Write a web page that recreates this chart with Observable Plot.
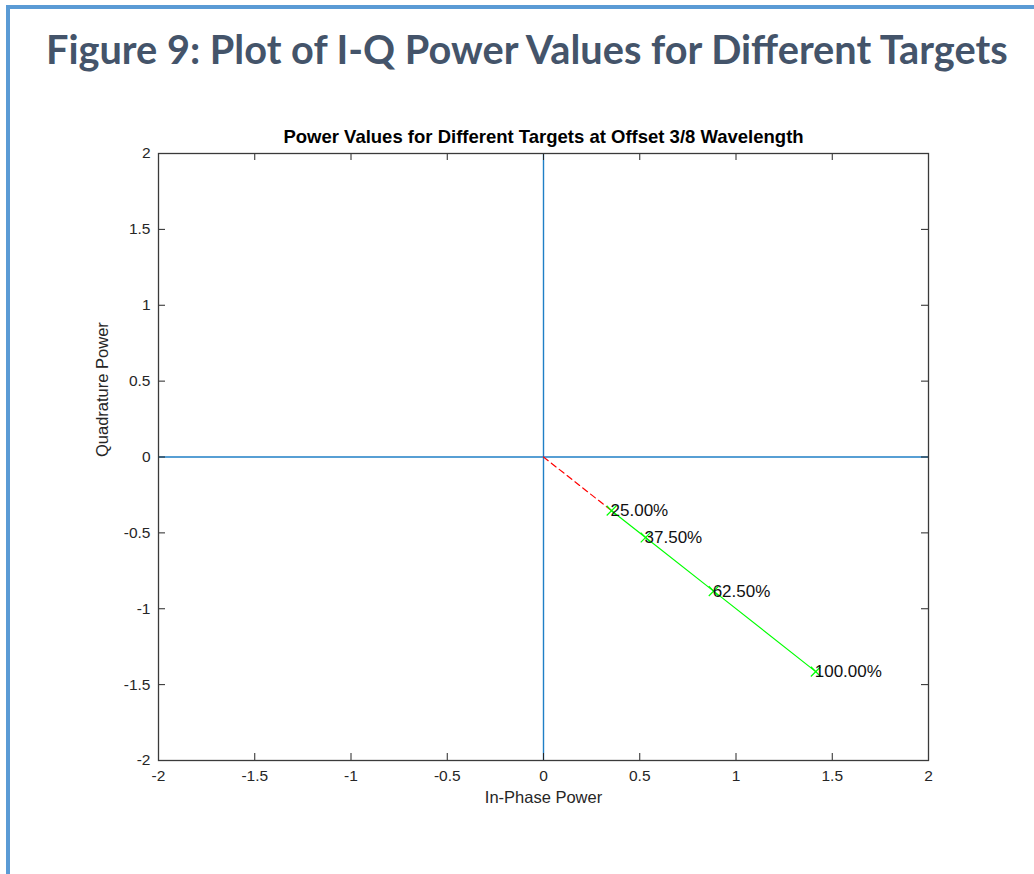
<!DOCTYPE html>
<html>
<head>
<meta charset="utf-8">
<script src="https://cdn.jsdelivr.net/npm/d3@7"></script>
<script src="https://cdn.jsdelivr.net/npm/@observablehq/plot@0.6"></script>
<style>
  html, body { margin: 0; padding: 0; background: #fff; }
  #page { position: relative; width: 1034px; height: 874px; overflow: hidden; background: #fff; }
  #border { position: absolute; left: 6px; top: 5px; right: -10px; bottom: -10px; z-index: 5; pointer-events: none;
            border-top: 4px solid #5B9BD5; border-left: 4px solid #5B9BD5; }
  #title { position: absolute; left: 46px; top: 28px; white-space: nowrap; font-family: Lato, 'Open Sans', sans-serif;
           font-weight: bold; color: #44546A; line-height: 1; transform-origin: 0 50%; }
  #chart { position: absolute; left: 0; top: 100px; }
</style>
</head>
<body>
<div id="page">
  <div id="title">Figure 9: Plot of I-Q Power Values for Different Targets</div>
  <div id="chart"></div>
  <div id="border"></div>
</div>
<script>
// Data
const targets = ["25.00%", "37.50%", "62.50%", "100.00%"];
const inPhase = [0.3536, 0.5303, 0.8839, 1.4142];
const quadrature = [-0.3536, -0.5303, -0.8839, -1.4142];
const tickValues = [-2, -1.5, -1, -0.5, 0, 0.5, 1, 1.5, 2];
const chartTitle = "Power Values for Different Targets at Offset 3/8 Wavelength";
const xLabel = "In-Phase Power";
const yLabel = "Quadrature Power";

// fit page title to the reference width (962px) and cap height
(function fitTitle() {
  const el = document.getElementById("title");
  const target = 962, base = 41;
  el.style.fontSize = base + "px";
  const w = el.getBoundingClientRect().width;
  const size = base * target / w;
  el.style.fontSize = size + "px";
  el.style.transform = "scaleY(" + (base / size) + ")";
  el.style.top = (28 + (41 - size) / 2) + "px";
})();

const points = targets.map((t, i) => ({label: t, x: inPhase[i], y: quadrature[i]}));
const origin = {x: 0, y: 0};
const dashed = [origin, points[0]];

const W = 1034, H = 740;
const mL = 158, mR = 106, mT = 53, mB = 80;
const fw = W - mL - mR, fh = H - mT - mB;
const tk = 7;
const fontF = "'Liberation Sans', Arial, Helvetica, sans-serif";
const txt = "#262626";
const fmt = d => String(d);

const chart = Plot.plot({
  width: W, height: H,
  marginLeft: mL, marginRight: mR, marginTop: mT, marginBottom: mB,
  style: {fontFamily: fontF, fontSize: "15px", color: txt, background: "transparent"},
  x: {domain: [-2, 2], axis: null},
  y: {domain: [-2, 2], axis: null},
  marks: [
    // zero axes in blue
    Plot.ruleX([0], {stroke: "#1f7fc6", strokeWidth: 1.4}),
    Plot.ruleY([0], {stroke: "#1f7fc6", strokeWidth: 1.4}),
    // data lines
    Plot.line(dashed, {x: "x", y: "y", stroke: "#FF0000", strokeWidth: 1.2, strokeDasharray: "6,4"}),
    Plot.line(points, {x: "x", y: "y", stroke: "#00FF00", strokeWidth: 1.2}),
    Plot.dot(points, {x: "x", y: "y", symbol: "times", r: 4.5, stroke: "#00FF00", strokeWidth: 1.2}),
    Plot.text(points, {x: "x", y: "y", text: "label", textAnchor: "start", dx: -1, fontSize: 17, fill: "#111", fontFamily: fontF}),
    // inward ticks on all four sides
    Plot.tickX(tickValues, {x: d => d, insetTop: fh - tk, stroke: "#262626", strokeWidth: 1}),
    Plot.tickX(tickValues, {x: d => d, insetBottom: fh - tk, stroke: "#262626", strokeWidth: 1}),
    Plot.tickY(tickValues, {y: d => d, insetRight: fw - tk, stroke: "#262626", strokeWidth: 1}),
    Plot.tickY(tickValues, {y: d => d, insetLeft: fw - tk, stroke: "#262626", strokeWidth: 1}),
    // tick labels
    Plot.text(tickValues, {x: d => d, text: fmt, frameAnchor: "bottom", dy: 20, fontSize: 15.5, fill: txt, fontFamily: fontF}),
    Plot.text(tickValues, {y: d => d, text: fmt, frameAnchor: "left", textAnchor: "end", dx: -8, fontSize: 15.5, fill: txt, fontFamily: fontF}),
    // box
    Plot.frame({stroke: "#3a3a3a", strokeWidth: 1.3}),
    // axis labels and title
    Plot.text([xLabel], {frameAnchor: "bottom", dy: 42, fontSize: 16.5, fill: txt, fontFamily: fontF}),
    Plot.text([yLabel], {frameAnchor: "left", dx: -56, rotate: -90, fontSize: 16.5, fill: txt, fontFamily: fontF}),
    Plot.text([chartTitle], {frameAnchor: "top", dy: -11, lineAnchor: "bottom", fontSize: 18.5, fontWeight: "bold", fill: "#000", fontFamily: fontF})
  ]
});
document.getElementById("chart").appendChild(chart);
</script>
</body>
</html>
